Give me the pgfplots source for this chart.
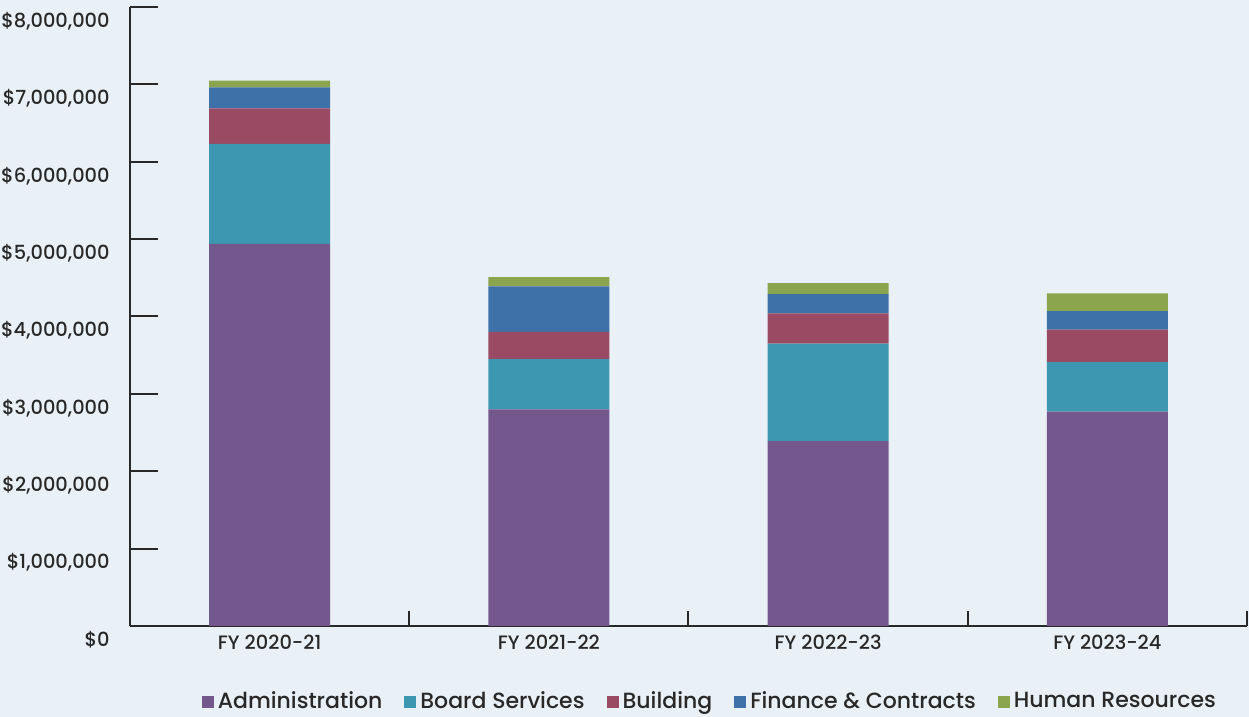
\documentclass[border=0pt]{standalone}
\usepackage{fontspec}
\setmainfont{Poppins}[UprightFont={* Medium}]
\usepackage{pgfplots}
\pgfplotsset{compat=1.18}
\definecolor{bgc}{RGB}{233,240,246}
\definecolor{cadm}{RGB}{116,88,141}
\definecolor{cboard}{RGB}{62,151,176}
\definecolor{cbuild}{RGB}{154,74,98}
\definecolor{cfin}{RGB}{62,113,168}
\definecolor{chr}{RGB}{139,164,78}
\definecolor{axc}{RGB}{40,40,40}
\begin{document}
\begin{tikzpicture}
\path[use as bounding box, fill=bgc] (-65pt,-45.5pt) rectangle (559.5pt,313pt);
\begin{axis}[at={(0,0)}, anchor=south west, scale only axis,
 width=558.5pt, height=309.5pt,
 ybar stacked, bar width=0.433,
 xmin=-0.5, xmax=3.5, ymin=0, ymax=8000000,
 axis x line*=bottom, axis y line*=left,
 axis line style={draw=axc, line width=1pt, -},
 xtick={0,1,2,3}, xticklabels={FY 2020-21,FY 2021-22,FY 2022-23,FY 2023-24},
 minor xtick={-0.5,0.5,1.5,2.5,3.5},
 major x tick style={draw=none},
 minor x tick style={draw=axc, line width=1pt},
 minor tick length=7.5pt,
 ytick={0,1000000,...,8000000},
 yticklabels={\$0,{\$1,000,000},{\$2,000,000},{\$3,000,000},{\$4,000,000},{\$5,000,000},{\$6,000,000},{\$7,000,000},{\$8,000,000}},
 major y tick style={draw=axc, line width=1pt},
 major tick length=14pt, tick align=inside,
 scaled y ticks=false,
 /pgf/number format/assume math mode=true,
 ticklabel style={font=\fontsize{9.7}{11}\selectfont, text=axc},
 yticklabel style={anchor=east, inner sep=0pt, xshift=-10pt, yshift=-7pt},
 xticklabel style={yshift=-1pt},
 legend columns=5,
 legend style={at={(0.52,-0.122)}, anchor=center, draw=none, fill=none,
   font=\fontsize{11}{13}\selectfont, text=axc,
   /tikz/every even column/.append style={column sep=9pt}},
 legend image code/.code={\fill[#1] (0pt,-3pt) rectangle (6pt,3pt);},
 ]
\addplot[fill=cadm, draw=none] coordinates {(0,4940000) (1,2800000) (2,2390000) (3,2770000)};
\addplot[fill=cboard, draw=none] coordinates {(0,1290000) (1,650000) (2,1260000) (3,640000)};
\addplot[fill=cbuild, draw=none] coordinates {(0,460000) (1,350000) (2,390000) (3,420000)};
\addplot[fill=cfin, draw=none] coordinates {(0,270000) (1,590000) (2,250000) (3,240000)};
\addplot[fill=chr, draw=none] coordinates {(0,90000) (1,120000) (2,140000) (3,230000)};
\legend{Administration,Board Services,Building,Finance \& Contracts,Human Resources}
\end{axis}
\end{tikzpicture}
\end{document}
